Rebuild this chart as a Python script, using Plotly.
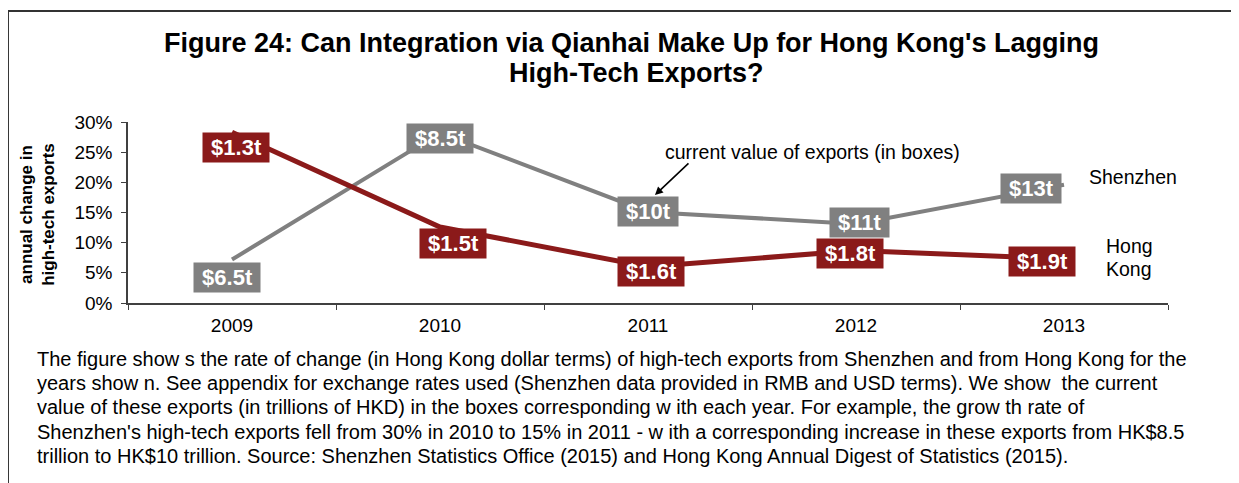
import plotly.graph_objects as go

years = ["2009", "2010", "2011", "2012", "2013"]
shenzhen_pct = [7.2, 28.2, 15.1, 13.1, 19.6]
hongkong_pct = [28.3, 12.6, 6.0, 8.7, 7.3]
shenzhen_value = ["$6.5t", "$8.5t", "$10t", "$11t", "$13t"]
hongkong_value = ["$1.3t", "$1.5t", "$1.6t", "$1.8t", "$1.9t"]
y_ticks = [0, 5, 10, 15, 20, 25, 30]
y_tick_labels = ["0%", "5%", "10%", "15%", "20%", "25%", "30%"]

caption = [
    "The figure show s the rate of change (in Hong Kong dollar terms) of high-tech exports from Shenzhen and from Hong Kong for the",
    "years show n. See appendix for exchange rates used (Shenzhen data provided in RMB and USD terms). We show  the current",
    "value of these exports (in trillions of HKD) in the boxes corresponding w ith each year. For example, the grow th rate of",
    "Shenzhen's high-tech exports fell from 30% in 2010 to 15% in 2011 - w ith a corresponding increase in these exports from HK$8.5",
    "trillion to HK$10 trillion. Source: Shenzhen Statistics Office (2015) and Hong Kong Annual Digest of Statistics (2015).",
]

GREY = "#808080"
RED = "#8B1A1A"
FONT = "Liberation Sans, Arial, sans-serif"

# label box offsets from their points, in pixels (x, y-up)
sz_shift = [(-5, -18), (0, -6), (0, 0), (3, 1), (-33, -4)]
hk_shift = [(4, -15), (13, -17), (3, -5), (-6, -3), (-22, -3)]

fig = go.Figure()
fig.add_trace(go.Scatter(x=years, y=shenzhen_pct, mode="lines", name="Shenzhen",
                         line=dict(color=GREY, width=4)))
fig.add_trace(go.Scatter(x=years, y=hongkong_pct, mode="lines", name="Hong Kong",
                         line=dict(color=RED, width=5)))


def note(x, y, text, size, **kw):
    d = dict(x=x, y=y, xref="paper", yref="paper", showarrow=False, text=text,
             xanchor="center", yanchor="middle",
             font=dict(family=FONT, size=size, color="black"))
    d.update(kw)
    return d


annotations = []
for vals, labels, shifts, col in [(shenzhen_pct, shenzhen_value, sz_shift, GREY),
                                  (hongkong_pct, hongkong_value, hk_shift, RED)]:
    for i, (v, lab, (dx, dy)) in enumerate(zip(vals, labels, shifts)):
        # category axes place annotations by category index
        annotations.append(dict(
            x=i, y=v, xref="x", yref="y", text="<b>\u00a0%s\u00a0</b>" % lab, showarrow=False,
            xanchor="center", yanchor="middle",
            xshift=dx, yshift=dy, bgcolor=col, borderpad=2,
            font=dict(family=FONT, size=22, color="white"),
        ))

# titles
annotations.append(note(0.4846, 1.4365, "<b>Figure 24: Can Integration via Qianhai Make Up for Hong Kong's Lagging</b>", 27))
annotations.append(note(0.489, 1.2707, "<b>High-Tech Exports?</b>", 27))
# y-axis title
annotations.append(note(-0.087, 0.49, "<b>annual change in<br>high-tech exports</b>", 17, textangle=-90))
# series names
annotations.append(note(0.9663, 0.697, "Shenzhen", 19.5))
annotations.append(note(0.9625, 0.315, "Hong", 19.5))
annotations.append(note(0.9625, 0.188, "Kong", 19.5))
# note and arrow
annotations.append(note(0.6577, 0.834, "current value of exports (in boxes)", 19.5))
annotations.append(dict(x=0.5067, y=0.5967, xref="paper", yref="paper", showarrow=True,
                        ax=35, ay=-33, arrowhead=2, arrowsize=1, arrowwidth=1.6,
                        arrowcolor="black", text=""))
# caption
for i, line in enumerate(caption):
    annotations.append(note(-0.0894, -0.309 - i * 0.134, line, 20, xanchor="left"))

fig.update_layout(
    width=1239, height=483,
    margin=dict(l=120, r=79, t=114, b=188),
    paper_bgcolor="white", plot_bgcolor="white",
    showlegend=False,
    annotations=annotations,
    font=dict(family=FONT, size=18, color="black"),
    shapes=[
        dict(type="line", xref="paper", yref="paper", x0=-0.1154, x1=-0.1154, y0=1.613, y1=-1.1,
             line=dict(color="#333333", width=2)),
        dict(type="line", xref="paper", yref="paper", x0=-0.1154, x1=1.1, y0=1.613, y1=1.613,
             line=dict(color="#333333", width=2)),
    ],
)
fig.update_xaxes(type="category", range=[-0.5, 4.5], showgrid=False, showline=True,
                 linecolor="#404040", linewidth=1.5, ticks="outside", tickson="boundaries",
                 ticklen=5, tickcolor="#404040", ticklabelstandoff=4,
                 tickfont=dict(family=FONT, size=19, color="black"))
fig.update_yaxes(range=[0, 30], tickvals=y_ticks, ticktext=y_tick_labels, showgrid=False,
                 zeroline=False, showline=True, linecolor="#404040", linewidth=1.5,
                 ticks="outside", ticklen=5, tickcolor="#404040", ticklabelstandoff=5,
                 tickfont=dict(family=FONT, size=19, color="black"))

fig.write_html("out.html")
